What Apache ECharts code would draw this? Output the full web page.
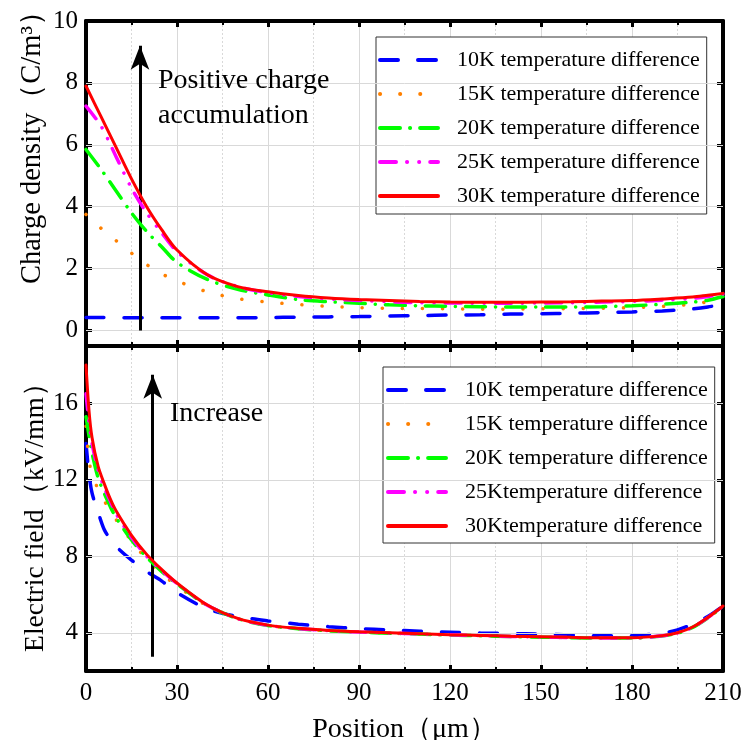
<!DOCTYPE html>
<html><head><meta charset="utf-8">
<script src="https://cdn.jsdelivr.net/npm/echarts@6/dist/echarts.min.js"></script>
<style>html,body{margin:0;padding:0;background:#fff}#c{width:744px;height:740px}</style>
</head><body><div id="c"></div>
<script>
// ---------- DATA ----------
const namesTop = ['10K temperature difference','15K temperature difference','20K temperature difference','25K temperature difference','30K temperature difference'];
const namesBot = ['10K temperature difference','15K temperature difference','20K temperature difference','25Ktemperature difference','30Ktemperature difference'];

// Charge density (C/m^3) vs position (um)
const xTop = [0,5,10,15,20,25,30,40,50,60,70,80,90,100,110,120,130,140,150,160,170,180,190,200,205,210];
const cd10 = [0.42,0.42,0.41,0.41,0.41,0.41,0.41,0.41,0.41,0.42,0.43,0.44,0.45,0.47,0.48,0.50,0.51,0.53,0.54,0.56,0.58,0.60,0.63,0.70,0.76,0.85];
const cd15 = [3.75,3.3,2.9,2.5,2.13,1.83,1.6,1.25,1.03,0.92,0.84,0.78,0.74,0.72,0.71,0.70,0.69,0.69,0.70,0.71,0.72,0.74,0.78,0.85,0.93,1.05];
const cd20 = [5.85,5.2,4.5,3.8,3.2,2.7,2.2,1.65,1.33,1.15,1.0,0.93,0.88,0.83,0.80,0.78,0.77,0.76,0.76,0.76,0.77,0.80,0.85,0.92,0.98,1.1];
const cd25 = [7.25,6.6,5.6,4.6,3.8,3.15,2.55,1.8,1.42,1.22,1.10,1.02,0.97,0.93,0.90,0.89,0.88,0.88,0.89,0.90,0.92,0.94,0.98,1.04,1.10,1.18];
const cd30 = [7.9,6.9,5.9,4.9,4.0,3.25,2.6,1.8,1.42,1.25,1.13,1.05,1.0,0.97,0.94,0.92,0.91,0.91,0.92,0.93,0.95,0.97,1.02,1.08,1.14,1.2];

// Electric field (kV/mm) vs position (um)
const xBot = [0,1,2,4,6,8,10,15,20,25,30,40,50,60,70,80,90,100,110,120,130,140,150,160,170,180,190,195,200,205,210];
const ef10 = [13.9,12.3,11.3,10.3,9.4,8.9,8.5,7.8,7.2,6.7,6.1,5.25,4.85,4.62,4.45,4.32,4.22,4.15,4.08,4.03,3.99,3.96,3.93,3.88,3.84,3.85,3.98,4.15,4.45,4.85,5.4];
const ef15 = [14.8,13.0,12.3,11.5,10.9,10.4,9.9,8.8,7.85,7.1,6.45,5.4,4.73,4.38,4.21,4.10,4.03,3.98,3.93,3.88,3.84,3.80,3.77,3.74,3.72,3.72,3.83,3.98,4.28,4.78,5.38];
const ef20 = [15.3,14.3,13.4,12.1,11.3,10.6,10.0,8.85,7.95,7.2,6.55,5.43,4.74,4.38,4.21,4.10,4.03,3.98,3.93,3.88,3.84,3.80,3.77,3.74,3.72,3.72,3.83,3.98,4.28,4.78,5.38];
const ef25 = [16.5,15.0,13.9,12.5,11.6,10.9,10.2,9.0,8.0,7.25,6.58,5.44,4.74,4.39,4.22,4.11,4.04,3.99,3.94,3.89,3.85,3.81,3.78,3.75,3.73,3.73,3.84,3.99,4.29,4.79,5.39];
const ef30 = [18.0,15.6,14.2,12.7,11.8,11.0,10.35,9.1,8.1,7.3,6.6,5.45,4.75,4.4,4.23,4.12,4.05,4.0,3.95,3.9,3.86,3.82,3.79,3.76,3.74,3.74,3.85,4.0,4.3,4.8,5.4];

const yTopTicks = [0,2,4,6,8,10];
const yBotTicks = [4,8,12,16];

// ---------- STYLE ----------
const FONT = "'Liberation Serif','Times New Roman',serif";
const colors = ['#0000ff','#ff8000','#00ff00','#ff00ff','#ff0000'];
const dashes = [[18,20],[0.1,20],[20,10,0.1,10],[16,11,0.1,12,0.1,11],'solid'];
const widths = [3.5,3.5,3.5,3.5,3];
const GRID = '#d9d9d9';

const pair = (xs, ys) => xs.map((x,i)=>[x, ys[i]]);

function xAx(gi, pos, labels){
  return {type:'value', gridIndex:gi, position:pos, min:0, max:210, interval:30,
    axisLine:{show:true, onZero:false, lineStyle:{color:'#000', width:4}},
    axisTick:{show:true, inside:true, length:6, lineStyle:{color:'#000', width:3}},
    minorTick:{show:true, splitNumber:2, length:4, lineStyle:{color:'#000', width:2}},
    axisLabel:{show:labels, fontFamily:FONT, fontSize:25, color:'#000', margin:10},
    splitLine:{show:pos==='bottom', lineStyle:{color:GRID, width:1}},
    minorSplitLine:{show:pos==='bottom', lineStyle:{color:GRID, width:1, type:[2,2]}}
  };
}
function yAx(gi, pos, min, max, ticks, opts){
  return Object.assign({type:'value', gridIndex:gi, position:pos, min:min, max:max,
    axisLine:{show:true, onZero:false, lineStyle:{color:'#000', width:4}},
    axisTick:{show:true, inside:true, length:6, customValues:ticks, lineStyle:{color:'#000', width:3}},
    axisLabel:{show:pos==='left', customValues:ticks, fontFamily:FONT, fontSize:25, color:'#000', margin:8},
    splitLine:{show:false}
  }, opts||{});
}

const yAxes = [
  yAx(0,'left',-0.5,10,yTopTicks,{name:'Charge density（C/m³）', nameLocation:'middle', nameGap:39, nameMoveOverlap:false,
     nameTextStyle:{fontFamily:FONT, fontSize:28.5, color:'#000', padding:[0,0,0,86]}}),
  yAx(0,'right',-0.5,10,yTopTicks),
  yAx(1,'left',2,19,yBotTicks,{interval:2, splitLine:{show:true, lineStyle:{color:GRID, width:1, type:[2,2]}},
     name:'Electric field（kV/mm）', nameLocation:'middle', nameGap:36, nameMoveOverlap:false,
     nameTextStyle:{fontFamily:FONT, fontSize:27.5, color:'#000', padding:[0,4,0,0]}}),
  yAx(1,'right',2,19,yBotTicks,{interval:2})
];

const xAxes = [xAx(0,'bottom',false), xAx(0,'top',false), xAx(1,'bottom',true), xAx(1,'top',false)];
xAxes[2].name = 'Position（μm）';
xAxes[2].nameLocation = 'middle';
xAxes[2].nameGap = 45;
xAxes[2].nameTextStyle = {fontFamily:FONT, fontSize:28, color:'#000'};

const series = [];
// solid grid lines through markLine, behind the data
series.push({type:'line', xAxisIndex:0, yAxisIndex:0, data:[], z:1, silent:true,
  markLine:{silent:true, symbol:'none', label:{show:false}, lineStyle:{color:GRID, width:1, type:'solid'},
    data:[0,2,4,6,8].map(v=>({yAxis:v}))}});
series.push({type:'line', xAxisIndex:2, yAxisIndex:2, data:[], z:1, silent:true,
  markLine:{silent:true, symbol:'none', label:{show:false}, lineStyle:{color:GRID, width:1, type:'solid'},
    data:yBotTicks.map(v=>({yAxis:v}))}});

const topData = [cd10,cd15,cd20,cd25,cd30];
const botData = [ef10,ef15,ef20,ef25,ef30];
topData.forEach((d,i)=>series.push({type:'line', name:namesTop[i], xAxisIndex:0, yAxisIndex:0,
  data:pair(xTop,d), symbol:'none', smooth:0.3, z:3+i,
  lineStyle:{color:colors[i], width:widths[i], type:dashes[i], cap:'round'}, itemStyle:{color:colors[i]}}));
botData.forEach((d,i)=>series.push({type:'line', name:namesBot[i], xAxisIndex:2, yAxisIndex:2,
  data:pair(xBot,d), symbol:'none', smooth:0.3, z:3+i,
  lineStyle:{color:colors[i], width:widths[i], type:dashes[i], cap:'round'}, itemStyle:{color:colors[i]}}));

// arrows
series.push({type:'line', xAxisIndex:0, yAxisIndex:0, data:[], z:20, silent:true,
  markLine:{silent:true, symbol:['none','arrow'], symbolSize:[14,24], label:{show:false},
    lineStyle:{color:'#000', width:3, type:'solid'},
    data:[[{coord:[17.8,0]},{coord:[17.8,9.2]}]]}});
series.push({type:'line', xAxisIndex:2, yAxisIndex:2, data:[], z:20, silent:true,
  markLine:{silent:true, symbol:['none','arrow'], symbolSize:[14,24], label:{show:false},
    lineStyle:{color:'#000', width:3, type:'solid'},
    data:[[{coord:[22,2.75]},{coord:[22,17.5]}]]}});

function legend(names, left, top, pad){
  return {data:names, orient:'vertical', left:left, top:top, itemWidth:58, itemHeight:22, itemGap:12,
    padding:pad, backgroundColor:'#fff', borderColor:'#333', borderWidth:1, borderRadius:0,
    selectedMode:false,
    itemStyle:{opacity:0, borderWidth:0},
    lineStyle:{opacity:1, width:4, cap:'round'},
    textStyle:{fontFamily:FONT, fontSize:22, color:'#000', padding:[0,0,0,14]}};
}

const option = {
  animation:false,
  backgroundColor:'#fff',
  grid:[{left:86, right:21, top:21, height:325, outerBoundsMode:'none', containLabel:false},
        {left:86, right:21, top:346, height:325, outerBoundsMode:'none', containLabel:false}],
  xAxis:xAxes, yAxis:yAxes,
  legend:[legend(namesTop,376,37,[12,7,7,2]), legend(namesBot,383,367,[12,7,6,3])],
  series:series,
  graphic:[
    {type:'text', left:158, top:63, z:50, style:{text:'Positive charge\naccumulation', font:"28px 'Liberation Serif'", fill:'#000', lineHeight:35}},
    {type:'text', left:170, top:400, z:50, style:{text:'Increase', font:"28px 'Liberation Serif'", fill:'#000', lineHeight:28}}
  ]
};
echarts.init(document.getElementById('c')).setOption(option);
</script></body></html>
